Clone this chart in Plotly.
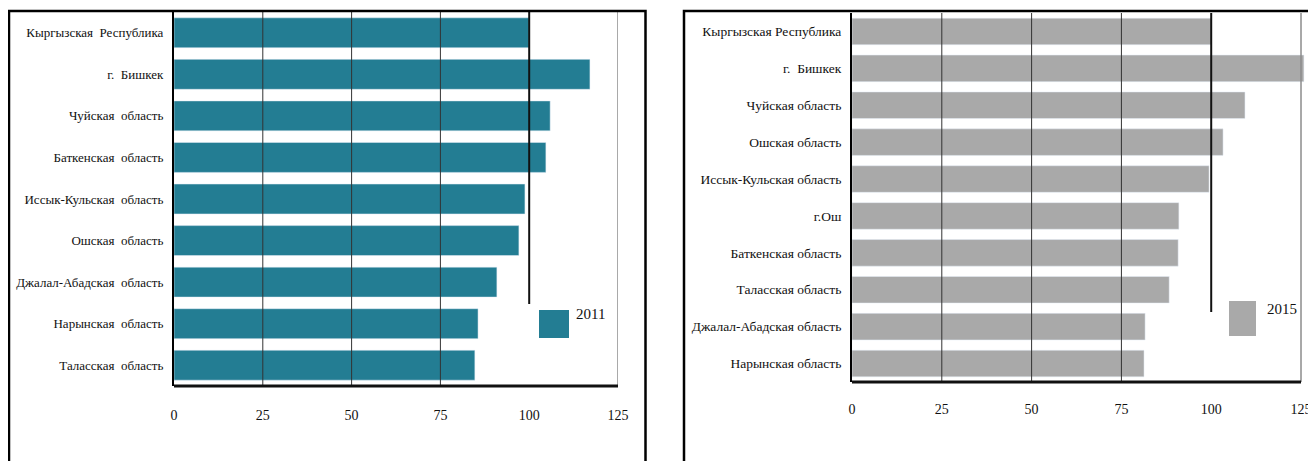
import plotly.graph_objects as go

regions_2011 = ["Кыргызская\u2002Республика", "г.\u2002Бишкек", "Чуйская\u2002область",
                "Баткенская\u2002область", "Иссык-Кульская\u2002область", "Ошская\u2002область",
                "Джалал-Абадская\u2002область", "Нарынская\u2002область", "Таласская\u2002область"]
values_2011 = [100, 117.1, 105.9, 104.7, 98.8, 97.1, 90.9, 85.6, 84.7]

regions_2015 = ["Кыргызская Республика", "г.\u2002Бишкек", "Чуйская область", "Ошская область",
                "Иссык-Кульская область", "г.Ош", "Баткенская область", "Таласская область",
                "Джалал-Абадская область", "Нарынская область"]
values_2015 = [100, 125.8, 109.4, 103.3, 99.4, 91.0, 90.8, 88.3, 81.6, 81.3]

x_ticks = [0, 25, 50, 75, 100, 125]

# page body has an 8px margin, so the figure is drawn 8px in from the window corner
OFF = 8
W, H = 1316 - OFF, 461 - OFF
FONT = "Liberation Serif, Times New Roman, serif"
TEAL = "#237D93"
GREY = "#A9A9A9"


def px(v):
    return (v - OFF) / W


def py(v):
    return 1 - (v - OFF) / H


fig = go.Figure()

fig.add_trace(go.Bar(x=values_2011, y=regions_2011, orientation="h", marker_color=TEAL,
                     name="2011", showlegend=False, xaxis="x", yaxis="y"))
fig.add_trace(go.Bar(x=values_2015, y=regions_2015, orientation="h", marker_color=GREY,
                     name="2015", showlegend=False, xaxis="x2", yaxis="y2"))

axis_x = dict(tickvals=x_ticks, showgrid=False, zeroline=False, showline=False, automargin=False,
              ticks="", tickfont=dict(family=FONT, size=14, color="#111"))
axis_y = dict(autorange="reversed", showgrid=False, showline=True, linecolor="black", linewidth=2,
              automargin=False, ticks="", ticklabelstandoff=6)

fig.update_layout(
    width=W, height=H,
    margin=dict(l=0, r=0, t=0, b=0, autoexpand=False),
    plot_bgcolor="white", paper_bgcolor="white",
    bargap=0.28,
    xaxis=dict(axis_x, domain=[px(174), px(618)], range=[0, 125], anchor="y", ticklabelstandoff=19),
    yaxis=dict(axis_y, domain=[py(386), py(12)], anchor="x",
               tickfont=dict(family=FONT, size=13, color="#111")),
    xaxis2=dict(axis_x, domain=[px(852), px(1306.4)], range=[0, 126.5], anchor="y2", ticklabelstandoff=17),
    yaxis2=dict(axis_y, domain=[py(382), py(13)], anchor="x2",
                tickfont=dict(family=FONT, size=13.5, color="#111")),
)

# gridlines and reference line
for xr, yr, stop in (("x", "y", 0.219), ("x2", "y2", 0.19)):
    for g in (25, 50, 75):
        fig.add_shape(type="line", xref=xr, yref=yr + " domain", x0=g, x1=g, y0=0, y1=1,
                      line=dict(color="#333", width=1), layer="above")
    fig.add_shape(type="line", xref=xr, yref=yr + " domain", x0=125, x1=125, y0=0, y1=1,
                  line=dict(color="#8c8c8c", width=1.5))
    fig.add_shape(type="line", xref=xr, yref=yr + " domain", x0=100, x1=100, y0=stop, y1=1,
                  line=dict(color="#111", width=2), layer="above")
    fig.add_shape(type="line", xref=xr, yref=yr + " domain", x0=0, x1=125, y0=0, y1=0,
                  line=dict(color="#111", width=3))

# outer panel frames
fig.add_shape(type="rect", xref="paper", yref="paper", x0=px(9), x1=px(645.5), y0=-0.05, y1=py(11),
              line=dict(color="black", width=2.5))
fig.add_shape(type="rect", xref="paper", yref="paper", x0=px(684), x1=1.05, y0=-0.05, y1=py(11),
              line=dict(color="black", width=2.5))

# legends
fig.add_shape(type="rect", xref="paper", yref="paper", x0=px(539), x1=px(569), y0=py(338), y1=py(310),
              fillcolor=TEAL, line=dict(width=0))
fig.add_annotation(xref="paper", yref="paper", x=px(574), y=py(324), text="2011", showarrow=False,
                   xanchor="left", font=dict(family=FONT, size=15, color="#111"))
fig.add_shape(type="rect", xref="paper", yref="paper", x0=px(1229), x1=px(1256), y0=py(336), y1=py(301),
              fillcolor=GREY, line=dict(width=0))
fig.add_annotation(xref="paper", yref="paper", x=px(1265), y=py(319), text="2015", showarrow=False,
                   xanchor="left", font=dict(family=FONT, size=15, color="#111"))

fig.write_html("out.html")
